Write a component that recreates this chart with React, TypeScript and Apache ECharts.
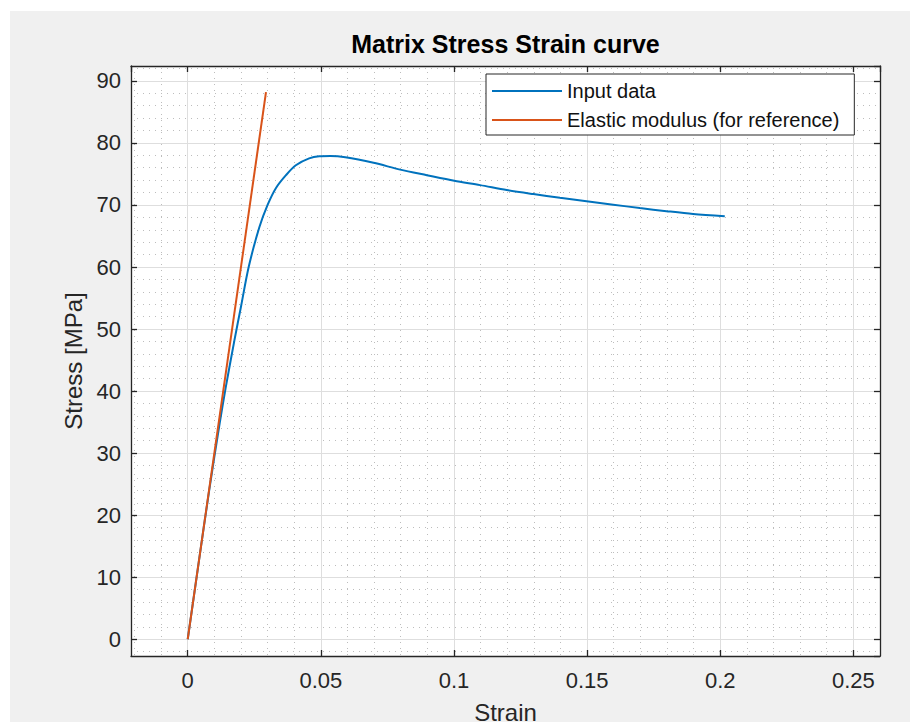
import React, { useEffect, useRef } from "react";
import * as echarts from "echarts";

// ---- data ----
const inputStrain = [
  0, 0.004, 0.008, 0.012, 0.0142, 0.0175, 0.02, 0.0229, 0.0269, 0.03,
  0.0331, 0.0369, 0.0406, 0.0456, 0.0494, 0.0536, 0.0592, 0.0698, 0.0798, 0.0898,
  0.1001, 0.1098, 0.1198, 0.1298, 0.1398, 0.1498, 0.1598, 0.1698, 0.1798, 0.1898, 0.2017,
];
const inputStress = [
  0, 12, 23.8, 34.8, 40.4, 48.1, 53.6, 60.0, 66.4, 70.0,
  72.7, 74.8, 76.4, 77.5, 77.85, 77.9, 77.7, 76.8, 75.7, 74.8,
  73.9, 73.2, 72.4, 71.75, 71.15, 70.6, 70.05, 69.5, 69.0, 68.55, 68.2,
];
const modulusStrain = [0, 0.0294];
const modulusStress = [0, 88.2];

const xLimits = [-0.0213, 0.26];
const yLimits = [-2.7, 92.4];
const xStep = 0.05;
const yStep = 10;

const seriesNames = ["Input data", "Elastic modulus (for reference)"];
const seriesColors = ["#0072BD", "#D95319"];
const titleText = "Matrix Stress Strain curve";
const xLabelText = "Strain";
const yLabelText = "Stress [MPa]";

const FONT = "'Liberation Sans', Arial, Helvetica, sans-serif";
const AX = "#262626";

function axisBase(min: number, max: number, step: number, splitNumber: number) {
  return {
    type: "value" as const,
    min,
    max,
    splitNumber,
    minInterval: step,
    maxInterval: step,
    axisLine: { show: true, onZero: false, lineStyle: { color: AX, width: 1.3 } },
    axisTick: { show: true, inside: true, length: 6, lineStyle: { color: AX, width: 1.3 } },
    minorTick: { show: false, splitNumber: 5 },
  };
}

export default function App() {
  const ref = useRef<HTMLDivElement>(null);

  useEffect(() => {
    if (!ref.current) return;
    const chart = echarts.init(ref.current, null, { renderer: "svg" });

    const majorSplit = { show: true, lineStyle: { color: "#dedede", width: 1 } };
    const minorSplit = { show: true, lineStyle: { color: "#bdbdbd", width: 1, type: [1, 5] } };

    const option: any = {
      animation: false,
      backgroundColor: "transparent",
      color: seriesColors,
      grid: {
        left: 131,
        right: 30,
        top: 66,
        bottom: 66,
        show: true,
        backgroundColor: "#ffffff",
        borderWidth: 0,
        containLabel: false,
        outerBoundsMode: "none",
      },
      graphic: [
        {
          type: "text",
          x: 505.5,
          y: 44,
          style: {
            text: titleText,
            fontSize: 25,
            fontWeight: "bold",
            fontFamily: FONT,
            fill: "#000000",
            align: "center",
            verticalAlign: "middle",
          },
        },
      ],
      legend: {
        show: true,
        orient: "vertical",
        left: 486,
        top: 74,
        padding: [7, 15, 5, 6],
        itemGap: 9,
        itemWidth: 70,
        itemHeight: 2,
        icon: "rect",
        backgroundColor: "#ffffff",
        borderColor: AX,
        borderWidth: 1,
        textStyle: { fontSize: 20, lineHeight: 20, color: "#111111", fontFamily: FONT },
        data: seriesNames,
      },
      xAxis: [
        {
          ...axisBase(xLimits[0], xLimits[1], xStep, 5),
          position: "bottom",
          axisLabel: {
            show: true,
            margin: 13,
            color: AX,
            fontSize: 22,
            fontFamily: FONT,
            showMinLabel: false,
            showMaxLabel: false,
          },
          splitLine: majorSplit,
          minorSplitLine: minorSplit,
          name: xLabelText,
          nameLocation: "middle",
          nameGap: 44,
          nameTextStyle: { fontSize: 24, color: AX, fontFamily: FONT },
        },
        {
          ...axisBase(xLimits[0], xLimits[1], xStep, 5),
          position: "top",
          axisLabel: { show: false },
          splitLine: { show: false },
          minorSplitLine: { show: false },
        },
      ],
      yAxis: [
        {
          ...axisBase(yLimits[0], yLimits[1], yStep, 10),
          position: "left",
          axisLabel: {
            show: true,
            margin: 10,
            color: AX,
            fontSize: 22,
            fontFamily: FONT,
            padding: [6, 0, 0, 0],
            showMinLabel: false,
            showMaxLabel: false,
          },
          splitLine: majorSplit,
          minorSplitLine: minorSplit,
          name: yLabelText,
          nameLocation: "middle",
          nameGap: 44,
          nameRotate: 90,
          nameTextStyle: { fontSize: 24, color: AX, fontFamily: FONT },
        },
        {
          ...axisBase(yLimits[0], yLimits[1], yStep, 10),
          position: "right",
          axisLabel: { show: false },
          splitLine: { show: false },
          minorSplitLine: { show: false },
        },
      ],
      series: [
        {
          type: "line",
          name: seriesNames[0],
          xAxisIndex: 0,
          yAxisIndex: 0,
          data: inputStrain.map((x, i) => [x, inputStress[i]]),
          symbol: "none",
          showSymbol: false,
          smooth: 0.3,
          lineStyle: { color: seriesColors[0], width: 2 },
          itemStyle: { color: seriesColors[0] },
        },
        {
          type: "line",
          name: seriesNames[1],
          xAxisIndex: 0,
          yAxisIndex: 0,
          data: modulusStrain.map((x, i) => [x, modulusStress[i]]),
          symbol: "none",
          showSymbol: false,
          lineStyle: { color: seriesColors[1], width: 2 },
          itemStyle: { color: seriesColors[1] },
        },
      ],
    };

    chart.setOption(option);
    return () => chart.dispose();
  }, []);

  return (
    <div
      style={{
        position: "fixed",
        left: 0,
        top: 0,
        width: 910,
        height: 722,
        background: "#ffffff",
        overflow: "hidden",
      }}
    >
      <div
        style={{
          position: "absolute",
          left: 10,
          top: 11,
          right: 0,
          bottom: 0,
          background: "#f0f0f0",
        }}
      />
      <div ref={ref} style={{ position: "absolute", left: 0, top: 0, width: 910, height: 722 }} />
    </div>
  );
}
